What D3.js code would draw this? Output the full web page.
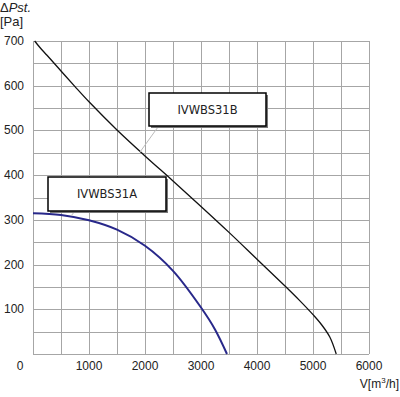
<!DOCTYPE html>
<html>
<head>
<meta charset="utf-8">
<script src="https://cdn.jsdelivr.net/npm/d3@7"></script>
<style>
	body { margin: 0; background: #fff; }
	text { font-family: "Liberation Sans", Arial, sans-serif; fill: #222; }
</style>
</head>
<body>
<div id="chart"></div>
<script>
// data
const flowB = [30, 120, 250, 500, 750, 1000, 1500, 2000, 2500, 3000, 3500, 4000, 4500, 4750, 5000, 5150, 5300, 5415];
const pressB = [700, 686, 668, 633, 598, 564, 501, 443, 387, 330, 272, 212, 152, 121, 88, 66, 38, 0];
const flowA = [0, 500, 1000, 1500, 2000, 2500, 3000, 3250, 3464];
const pressA = [315, 311, 299, 278, 242, 186, 104, 55, 0];
const xTicks = [1000, 2000, 3000, 4000, 5000, 6000];
const yTicks = [100, 200, 300, 400, 500, 600, 700];

const width = 400;
const height = 397;
const margin = { top: 41, right: 31, bottom: 43, left: 33 };

const svg = d3.select("#chart")
	.append("svg")
	.attr("width", width)
	.attr("height", height);

const x = d3.scaleLinear()
	.domain([0, 6000])
	.range([margin.left, width - margin.right]);

const y = d3.scaleLinear()
	.domain([0, 700])
	.range([height - margin.bottom, margin.top]);

// grid
const grid = svg.append("g").attr("stroke", "#a6a6a6").attr("stroke-width", 1);
grid.selectAll(".v")
	.data(d3.range(0, 6001, 500))
	.join("line")
	.attr("x1", d => Math.round(x(d)) + 0.5)
	.attr("x2", d => Math.round(x(d)) + 0.5)
	.attr("y1", y(0))
	.attr("y2", y(700));
grid.selectAll(".h")
	.data(d3.range(0, 701, 50))
	.join("line")
	.attr("y1", d => Math.round(y(d)) + 0.5)
	.attr("y2", d => Math.round(y(d)) + 0.5)
	.attr("x1", x(0))
	.attr("x2", x(6000));

// tick labels
svg.append("g")
	.selectAll("text")
	.data(yTicks)
	.join("text")
	.attr("x", 24)
	.attr("y", d => y(d) + 4)
	.attr("text-anchor", "end")
	.style("font-size", "12px")
	.text(d => d);

svg.append("g")
	.selectAll("text")
	.data(xTicks)
	.join("text")
	.attr("x", d => x(d))
	.attr("y", 370)
	.attr("text-anchor", "middle")
	.style("font-size", "12px")
	.text(d => d);

svg.append("text")
	.attr("x", 20)
	.attr("y", 370)
	.attr("text-anchor", "middle")
	.style("font-size", "12px")
	.text("0");

// axis titles
const yTitle = svg.append("text").attr("x", 0).attr("y", 12).style("font-size", "13px");
yTitle.append("tspan").text("\u0394");
yTitle.append("tspan").style("font-style", "italic").text("Pst.");
svg.append("text").attr("x", 0).attr("y", 26).style("font-size", "13px").text("[Pa]");

const xTitle = svg.append("text")
	.attr("x", 399)
	.attr("y", 388)
	.attr("text-anchor", "end")
	.style("font-size", "12px");
xTitle.append("tspan").text("V[m");
xTitle.append("tspan").attr("dy", -5).style("font-size", "8px").text("3");
xTitle.append("tspan").attr("dy", 5).text("/h]");

// curves
const line = d3.line()
	.x(d => x(d[0]))
	.y(d => y(d[1]))
	.curve(d3.curveCatmullRom.alpha(0.5));

svg.append("path")
	.datum(d3.zip(flowB, pressB))
	.attr("fill", "none")
	.attr("stroke", "#111")
	.attr("stroke-width", 1.3)
	.attr("d", line);

svg.append("path")
	.datum(d3.zip(flowA, pressA))
	.attr("fill", "none")
	.attr("stroke", "#28288a")
	.attr("stroke-width", 2)
	.attr("d", line);

// callouts
const callouts = [
	{ name: "IVWBS31B", x0: 149, y0: 93, w: 117, h: 33, lx1: 158, ly1: 127, lx2: 140, ly2: 152 },
	{ name: "IVWBS31A", x0: 48, y0: 177, w: 118, h: 34, lx1: 75, ly1: 211, lx2: 71, ly2: 216 }
];

callouts.forEach(c => {
	svg.append("line")
		.attr("x1", c.lx1).attr("y1", c.ly1)
		.attr("x2", c.lx2).attr("y2", c.ly2)
		.attr("stroke", "#bbb")
		.attr("stroke-width", 1);
	svg.append("rect")
		.attr("x", c.x0 + 2).attr("y", c.y0 + 2)
		.attr("width", c.w).attr("height", c.h)
		.attr("fill", "#777");
	svg.append("rect")
		.attr("x", c.x0).attr("y", c.y0)
		.attr("width", c.w).attr("height", c.h)
		.attr("fill", "#fff")
		.attr("stroke", "#000")
		.attr("stroke-width", 1.5);
	svg.append("text")
		.attr("x", c.x0 + c.w / 2)
		.attr("y", c.y0 + c.h / 2 + 4)
		.attr("text-anchor", "middle")
		.style("font-family", "'DejaVu Sans', Verdana, sans-serif")
		.style("font-size", "11.5px")
		.text(c.name);
});
</script>
</body>
</html>
